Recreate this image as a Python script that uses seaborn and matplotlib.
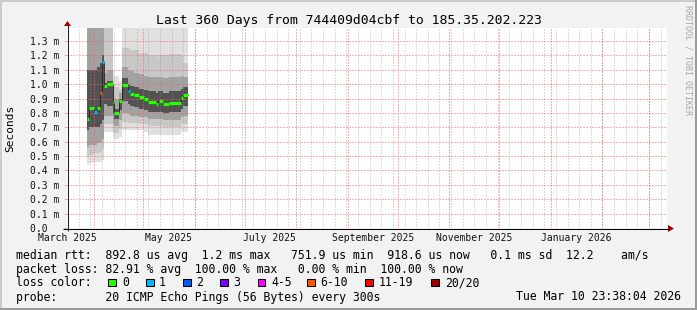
import numpy as np
import pandas as pd
import matplotlib
matplotlib.use("Agg")
import matplotlib.pyplot as plt
import matplotlib.dates as mdates
from matplotlib.patches import Rectangle, Polygon
import seaborn as sns

sns.set_theme(style="white")
plt.rcParams['font.family'] = ['DejaVu Sans Mono', 'DejaVu Sans']

# ---------------- data (values in ms) ----------------
seg_start = ["2025-03-28 06:00", "2025-03-29 10:00", "2025-04-01 10:00", "2025-04-03 06:00",
             "2025-04-05 01:00", "2025-04-06 06:00", "2025-04-07 10:00", "2025-04-09 06:00",
             "2025-04-12 20:00", "2025-04-13 10:00", "2025-04-16 10:00", "2025-04-18 06:00",
             "2025-04-21 20:00", "2025-04-23 01:00", "2025-04-25 10:00", "2025-04-28 10:00",
             "2025-05-01 10:00", "2025-05-03 20:00", "2025-05-08 15:00", "2025-05-09 20:00",
             "2025-05-10 10:00", "2025-05-12 20:00", "2025-05-16 10:00", "2025-05-23 15:00",
             "2025-05-24 20:00"]
seg_end = "2025-05-27 20:00"
median_ms = [0.758, 0.833, 0.805, 0.837, 0.937, 1.157, 0.987, 0.999, 0.876, 0.797, 0.883, 0.995,
             0.950, 0.935, 0.925, 0.913, 0.897, 0.874, 0.865, 0.897, 0.883, 0.860, 0.871, 0.906, 0.925]
loss = [0, 0, 1, 0, 7, 1, 0, 0, 0, 0, 0, 0, 1, 0, 0, 0, 0, 0, 0, 4, 0, 0, 0, 0, 0]
ping_hi = [1.45, 1.45, 1.45, 1.45, 1.45, 1.45, 1.45, 1.45, 1.09, 1.06, 1.02, 1.45,
           1.45, 1.45, 1.45, 1.45, 1.45, 1.45, 1.45, 1.45, 1.45, 1.45, 1.45, 1.45, 1.45]
ping_p90 = [1.45, 1.45, 1.45, 1.45, 1.45, 1.45, 1.45, 1.45, 1.00, 0.98, 0.97, 1.25,
            1.25, 1.24, 1.24, 1.22, 1.22, 1.20, 1.20, 1.18, 1.20, 1.20, 1.21, 1.20, 1.15]
ping_p75 = [1.45, 1.45, 1.45, 1.45, 1.45, 1.45, 1.08, 1.10, 0.95, 0.90, 0.94, 1.12,
            1.10, 1.09, 1.08, 1.07, 1.06, 1.05, 1.05, 1.04, 1.05, 1.04, 1.05, 1.06, 1.05]
ping_p60 = [1.10, 1.10, 1.10, 1.12, 1.15, 1.20, 1.01, 1.02, 0.90, 0.83, 0.90, 1.04,
            1.00, 0.99, 0.98, 0.97, 0.96, 0.95, 0.94, 0.95, 0.95, 0.94, 0.95, 0.97, 0.98]
ping_p40 = [0.68, 0.70, 0.70, 0.70, 0.72, 0.75, 0.86, 0.85, 0.80, 0.76, 0.82, 0.88,
            0.86, 0.85, 0.84, 0.83, 0.82, 0.81, 0.81, 0.81, 0.81, 0.80, 0.81, 0.83, 0.85]
ping_p25 = [0.56, 0.58, 0.58, 0.59, 0.60, 0.62, 0.78, 0.78, 0.72, 0.71, 0.75, 0.80,
            0.79, 0.78, 0.78, 0.77, 0.77, 0.76, 0.76, 0.76, 0.76, 0.75, 0.75, 0.77, 0.78]
ping_p10 = [0.50, 0.51, 0.52, 0.52, 0.53, 0.55, 0.72, 0.72, 0.67, 0.66, 0.69, 0.74,
            0.73, 0.73, 0.73, 0.72, 0.72, 0.71, 0.71, 0.71, 0.71, 0.70, 0.70, 0.72, 0.72]
ping_lo = [0.44, 0.45, 0.46, 0.46, 0.46, 0.47, 0.67, 0.67, 0.63, 0.62, 0.63, 0.68,
           0.68, 0.68, 0.68, 0.68, 0.67, 0.65, 0.65, 0.65, 0.65, 0.65, 0.65, 0.67, 0.67]

y_ticks = [0.0, 0.1, 0.2, 0.3, 0.4, 0.5, 0.6, 0.7, 0.8, 0.9, 1.0, 1.1, 1.2, 1.3]
x_labels = ["March 2025", "May 2025", "July 2025", "September 2025", "November 2025", "January 2026"]
x_label_dates = ["2025-03-16", "2025-05-16", "2025-07-16", "2025-09-16", "2025-11-16", "2026-01-16"]
view_start = "2025-03-16 20:00"
view_days = 360

title = "Last 360 Days from 744409d04cbf to 185.35.202.223"
line1 = "median rtt:  892.8 us avg  1.2 ms max   751.9 us min  918.6 us now   0.1 ms sd  12.2    am/s"
line2 = "packet loss: 82.91 % avg  100.00 % max   0.00 % min  100.00 % now"
line4 = "probe:       20 ICMP Echo Pings (56 Bytes) every 300s"
date_text = "Tue Mar 10 23:38:04 2026"
loss_labels = ["0", "1", "2", "3", "4-5", "6-10", "11-19", "20/20"]
loss_colors = ["#26ff00", "#00b8ff", "#0059ff", "#7e00ff", "#ff00ff", "#ff5500", "#ff0000", "#a00000"]
loss_bins = [0, 1, 2, 3, 5, 10, 19, 20]


def loss_color(n):
    for b, c in zip(loss_bins, loss_colors):
        if n <= b:
            return c
    return loss_colors[-1]


# ---------------- figure ----------------
W, H = 697, 310
fig = plt.figure(figsize=(W / 100, H / 100), dpi=100, facecolor="#f2f2f2")
ax = fig.add_axes([67 / W, (H - 228) / H, 600 / W, 200 / H])
ax.set_facecolor("white")

t = pd.to_datetime(seg_start + [seg_end])
tn = mdates.date2num(t)


def ext(a):
    return list(a) + [a[-1]]


bands = [(ping_lo, ping_hi, "#e0e0e0"), (ping_p10, ping_p90, "#c8c8c8"),
         (ping_p25, ping_p75, "#a2a2a2"), (ping_p40, ping_p60, "#525252")]
for lo, hi, c in bands:
    ax.fill_between(t, ext(lo), ext(hi), step="post", color=c, lw=0, zorder=1)

x0 = pd.Timestamp(view_start)
x1 = x0 + pd.Timedelta(days=view_days)
minor_col = (0.55, 0.55, 0.55, 0.3)
major_col = (1.0, 0.36, 0.36, 0.5)
grid_kw = dict(lw=1.0, ls=(0, (1, 1)), zorder=2, antialiased=False)
for w in pd.date_range("2025-03-17", x1, freq="W-SUN"):
    ax.axvline(w, color=minor_col, **grid_kw)
for m in pd.date_range("2025-04-01", x1, freq="MS"):
    ax.axvline(m, color=major_col, **grid_kw)
for v in y_ticks[1:]:
    ax.axhline(v, color=major_col, **grid_kw)

df = pd.DataFrame({"time": t, "median": ext(median_ms)})
sns.lineplot(data=df, x="time", y="median", drawstyle="steps-post", color="#202020",
             lw=0.6, ax=ax, zorder=3)
ax.hlines(median_ms, tn[:-1], tn[1:], colors=[loss_color(n) for n in loss], lw=2.3, zorder=4)

ax.set_xlim(x0, x1)
ax.set_ylim(0, 1.391)
ax.set_yticks(y_ticks)
ax.set_yticklabels(["0.0  "] + [f"{v:.1f} m" for v in y_ticks[1:]])
ax.set_xticks(pd.to_datetime(x_label_dates))
ax.set_xticklabels(x_labels)
ax.tick_params(axis="y", length=2.2, width=0.72, color=major_col, pad=3, labelsize=7,
               labelcolor="#111111", left=True)
ax.tick_params(axis="x", length=0, pad=3.6, labelsize=7, labelcolor="#111111")
ax.set_xlabel("")
ax.set_ylabel("")
ax.grid(False)
for s in ax.spines.values():
    s.set_visible(False)

# ---------------- overlay in pixel coordinates ----------------
ov = fig.add_axes([0, 0, 1, 1], zorder=5)
ov.set_xlim(0, W)
ov.set_ylim(H, 0)
ov.patch.set_alpha(0)
ov.axis("off")

# frame
ov.add_patch(Rectangle((0, 0), W, 2, color="#cbcbcb", lw=0))
ov.add_patch(Rectangle((0, 0), 2, H, color="#cbcbcb", lw=0))
ov.add_patch(Rectangle((0, H - 2), W, 2, color="#9a9a9a", lw=0))
ov.add_patch(Rectangle((W - 2, 0), 2, H, color="#9a9a9a", lw=0))

# axes lines and arrows
ov.plot([67.5, 67.5], [231, 25], color="#202020", lw=0.75, solid_capstyle="butt")
ov.plot([63, 669], [228.5, 228.5], color="black", lw=0.75, solid_capstyle="butt")
ov.add_patch(Polygon([[64, 26], [71, 26], [67.5, 21]], closed=True, color="#a00000", lw=0))
ov.add_patch(Polygon([[668, 225], [668, 232], [674, 228.5]], closed=True, color="#a00000", lw=0))

ov.text(348.5, 24, title, ha="center", va="baseline", fontsize=9.45, color="black")
ov.text(10.5, 128, "Seconds", rotation=90, ha="center", va="center", fontsize=8, color="black")
ov.text(688, 5, "RRDTOOL / TOBI OETIKER", rotation=270, ha="center", va="top",
        fontsize=6.0, color="#a8a8a8")

fs = 8.3
ov.text(16, 258.5, line1, ha="left", va="baseline", fontsize=fs, color="black")
ov.text(16, 272.5, line2, ha="left", va="baseline", fontsize=fs, color="black")
ov.text(16, 286.5, "loss color:", ha="left", va="baseline", fontsize=fs, color="black")
box_x = [108, 146, 183, 220, 257.5, 307, 365, 431]
lab_x = [122, 159, 196, 233.5, 271, 320.5, 379, 445]
for bx, lx, lab, c in zip(box_x, lab_x, loss_labels, loss_colors):
    ov.add_patch(Rectangle((bx, 278.5), 7.5, 7.5, facecolor=c, edgecolor="black", lw=0.75))
    ov.text(lx, 286.5, lab, ha="left", va="baseline", fontsize=fs, color="black")
ov.text(16, 300.5, line4, ha="left", va="baseline", fontsize=fs, color="black")
ov.text(681, 300.5, date_text, ha="right", va="baseline", fontsize=fs, color="black")

fig.savefig("out.png", dpi=100, facecolor=fig.get_facecolor())
